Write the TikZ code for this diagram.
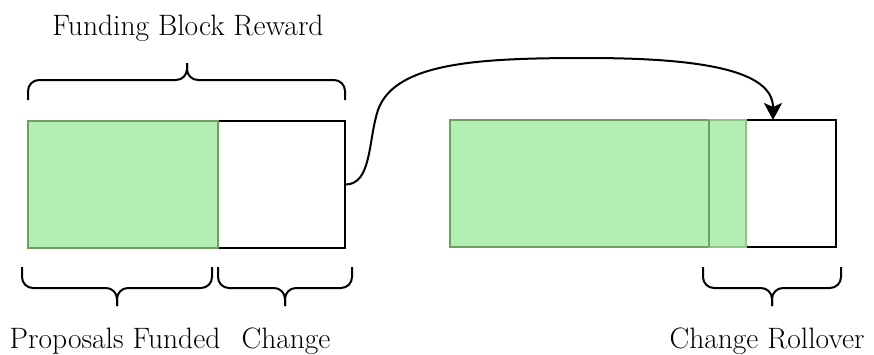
\documentclass[tikz,border=0pt]{standalone}
\usetikzlibrary{arrows.meta}

\definecolor{fundfill}{RGB}{179,238,181}
\definecolor{fundline}{RGB}{112,160,96}
\definecolor{fundlight}{RGB}{140,200,130}

\tikzset{
  part/.style={anchor=north west, inner sep=0pt, outer sep=0pt, minimum height=127pt},
  funded/.style={part, draw=fundline, fill=fundfill, line width=1.6pt},
  fundedlight/.style={part, draw=fundlight, fill=fundfill, line width=1.6pt},
  spare/.style={part, draw=black, fill=white, line width=2pt},
  brace/.style={draw=black, line width=2pt, rounded corners=11pt},
  caption/.style={font=\fontsize{29.5}{34}\selectfont, anchor=base, inner sep=0pt},
  flow/.style={draw=black, line width=2pt, -{Stealth[length=17pt,width=18pt,inset=4pt]}},
}

\begin{document}
\begin{tikzpicture}[x=1pt, y=-1pt]
  \useasboundingbox (0,0) rectangle (874,354);

  % block reward before funding
  \node[spare, minimum width=127pt] (chg) at (218,121) {};
  \node[funded, minimum width=190pt] (prop) at (28,121) {};

  % block reward after funding
  \node[spare, minimum width=90pt] (roll) at (746,120) {};
  \node[funded, minimum width=259pt] (prop2) at (450,120) {};
  \node[fundedlight, minimum width=37pt] (chg2) at (709,120) {};
  \draw[fundline, line width=1.6pt] (chg2.north west) -- (chg2.south west);
  \coordinate (rollin) at ([xshift=27pt]roll.north west);

  % braces
  \path[brace] (28,100) -- (28,80) -- (187,80) -- (187,63);
  \path[brace] (345,100) -- (345,80) -- (187,80) -- (187,63);

  \path[brace] (22,267) -- (22,288) -- (117,288) -- (117,306);
  \path[brace] (212,267) -- (212,288) -- (117,288) -- (117,306);

  \path[brace] (218,267) -- (218,288) -- (285,288) -- (285,306);
  \path[brace] (352,267) -- (352,288) -- (285,288) -- (285,306);

  \path[brace] (703,267) -- (703,288) -- (772,288) -- (772,306);
  \path[brace] (841,267) -- (841,288) -- (772,288) -- (772,306);

  % labels
  \node[caption] (lblreward) at (188,35) {Funding Block Reward};
  \node[caption] (lblfunded) at (115,348) {Proposals Funded};
  \node[caption] (lblchange) at (286,348) {Change};
  \node[caption] (lblroll) at (767,348) {Change Rollover};

  % change carried over into the next block
  \path[flow] (chg.east) .. controls (372,185) and (368,140) .. (378,110)
    .. controls (395,62) and (480,58) .. (587,58)
    .. controls (700,58) and (773,70) .. (rollin);
\end{tikzpicture}
\end{document}
